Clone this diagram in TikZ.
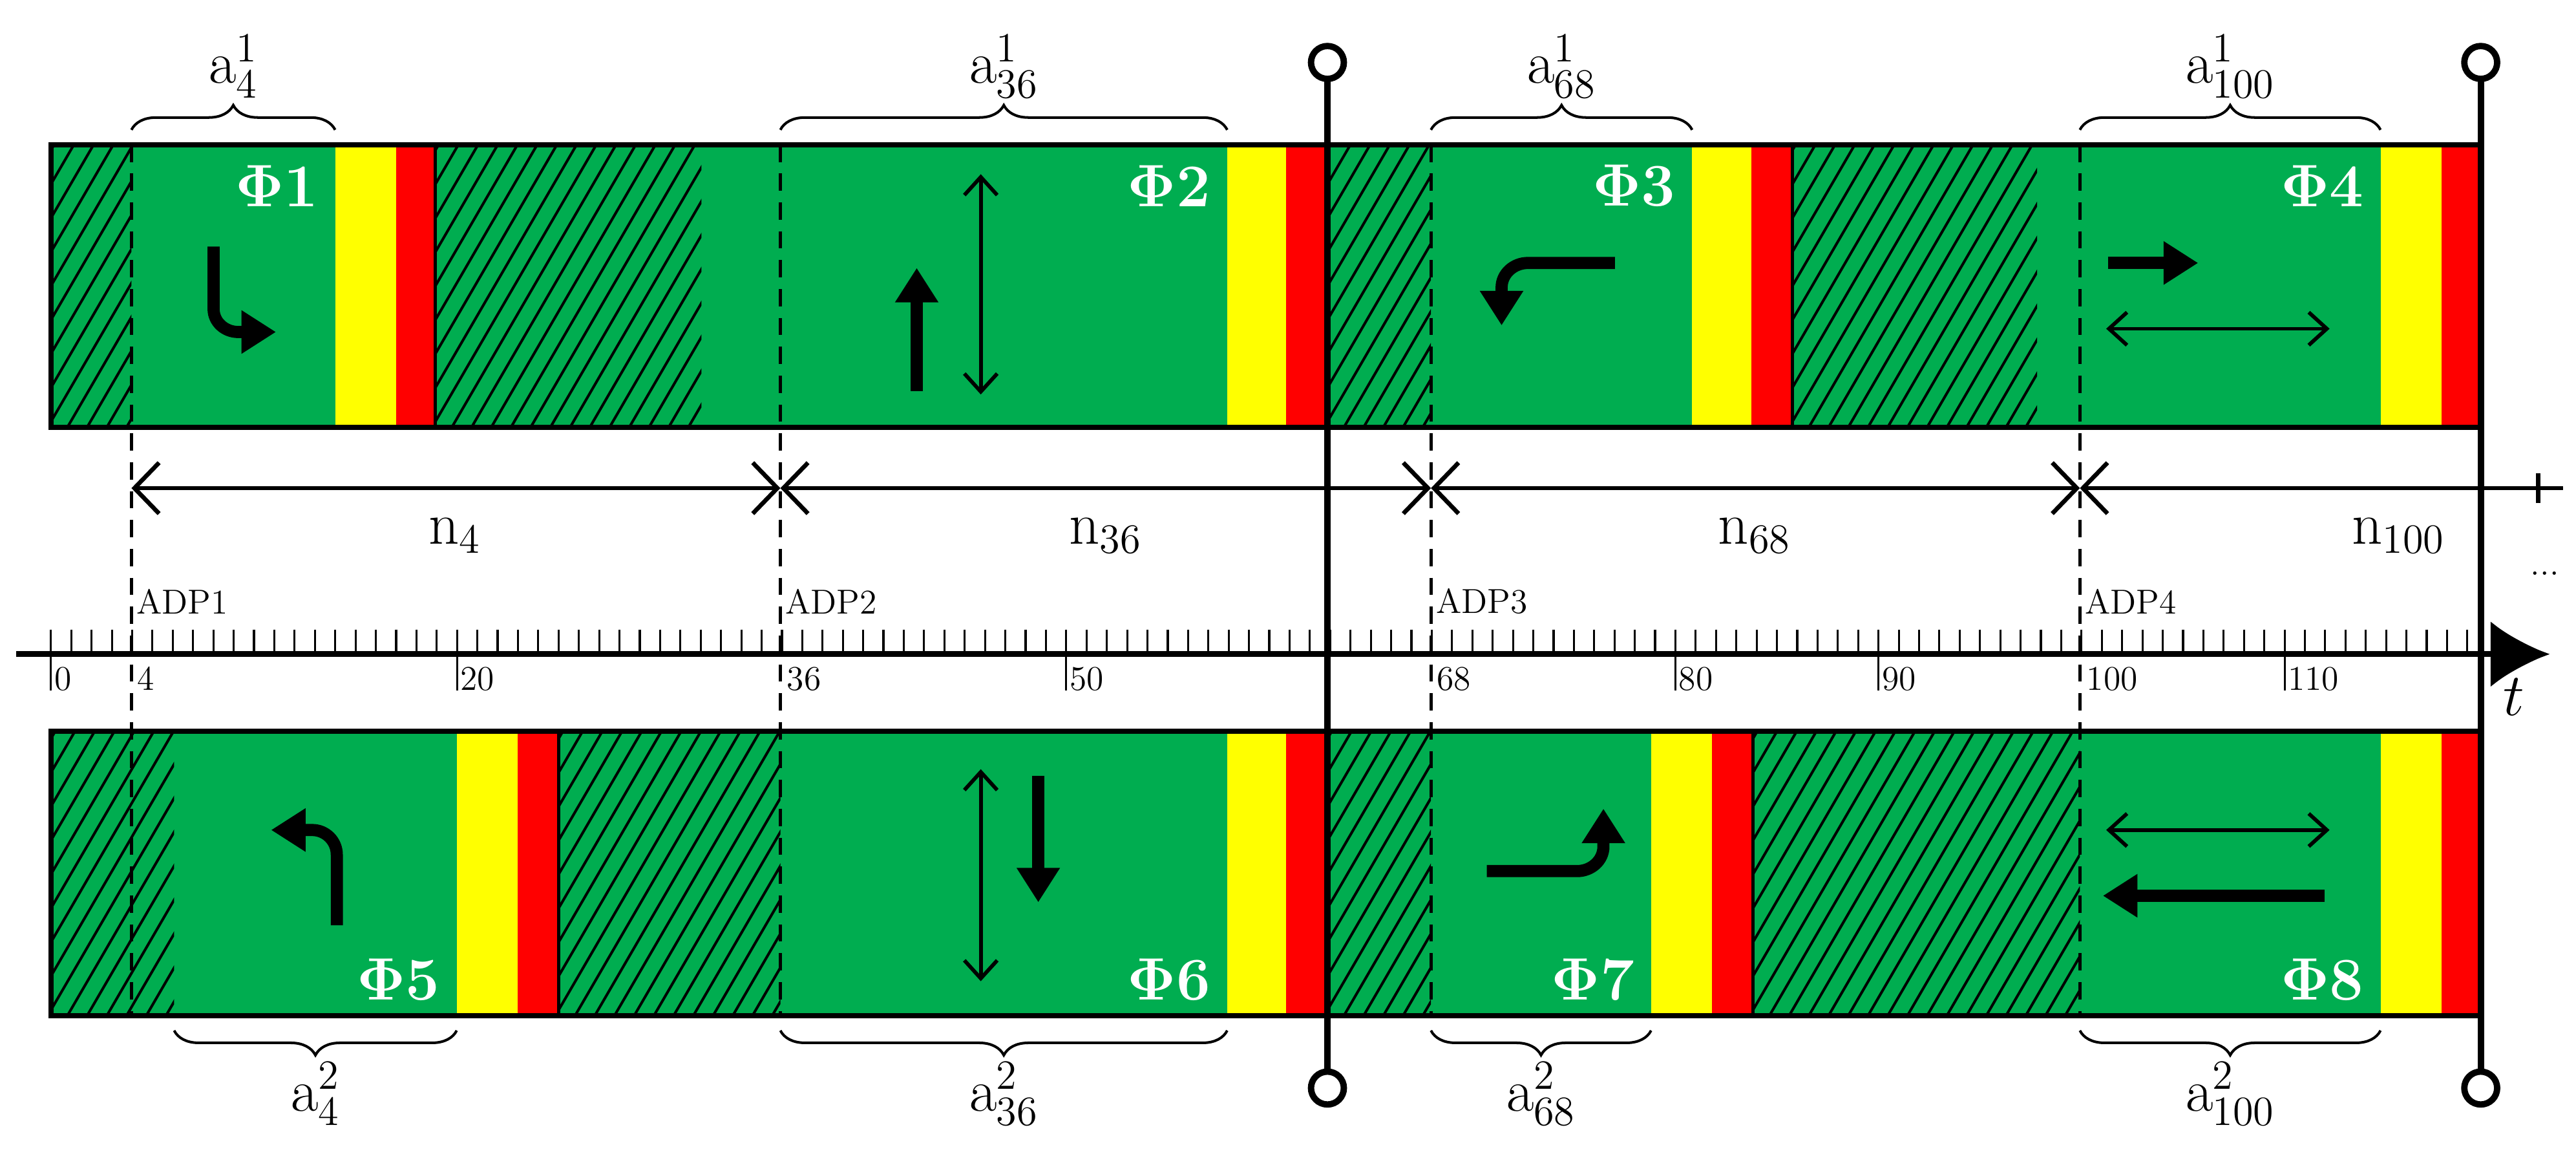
\documentclass[tikz,border=0pt]{standalone}
\usetikzlibrary{arrows.meta,decorations.pathreplacing}
\definecolor{sgreen}{RGB}{0,173,80}
\definecolor{syellow}{RGB}{255,255,0}
\definecolor{sred}{RGB}{255,0,0}
\newcommand\hatchbox[4]{%
  \begin{scope}
    \clip (#1,#2) rectangle (#3,#4);
    \foreach \i in {0,...,32}{\pgfmathsetmacro\xx{#1-110+12*\i}\draw[line width=0.9pt] (\xx,#4) -- ++(100,-172);}
  \end{scope}}
\newcommand\yr[5]{%
  \fill[syellow] (#1,#4) rectangle (#2,#5);
  \fill[sred] (#2,#4) rectangle (#3,#5);
  \draw[line width=1.2pt] (#3,#4) -- (#3,#5);}
\tikzset{
  bar/.style={line width=1.8pt},
  dim/.style={line width=1.5pt,{Straight Barb[length=0.3cm,width=0.62cm]}-{Straight Barb[length=0.3cm,width=0.62cm]}},
  thinarr/.style={line width=1.3pt,{Straight Barb[length=0.22cm,width=0.4cm]}-{Straight Barb[length=0.22cm,width=0.4cm]}},
  thickarrow/.style={line width=4.2pt,-{Triangle[length=0.42cm,width=0.5cm]}},
  phi/.style={text=white,font=\fontsize{21}{24}\selectfont\bfseries},
  lbl/.style={font=\fontsize{21}{24}\selectfont},
  ticklbl/.style={font=\fontsize{12}{14}\selectfont,anchor=west,inner sep=1pt},
  brc/.style={decorate,decoration={brace,amplitude=0.3cm},line width=0.9pt},
  adpline/.style={line width=1.2pt,dash pattern=on 6pt off 4pt},
  sync/.style={line width=2.2pt}
}
\begin{document}
\begin{tikzpicture}[x=0.02cm,y=-0.02cm]
\useasboundingbox (0,0) rectangle (1568,710);
% top bar
\fill[sgreen] (31,88) rectangle (1510,260);
\hatchbox{31}{88}{80}{260}
\hatchbox{265}{88}{427}{260}
\hatchbox{808}{88}{871}{260}
\hatchbox{1091}{88}{1240}{260}
\yr{204}{241}{265}{88}{260}
\yr{747}{783}{808}{88}{260}
\yr{1030}{1066}{1091}{88}{260}
\yr{1449}{1486}{1510}{88}{260}
\draw[bar] (31,88) rectangle (1510,260);
% bottom bar
\fill[sgreen] (31,445) rectangle (1510,618);
\hatchbox{31}{445}{106}{618}
\hatchbox{340}{445}{475}{618}
\hatchbox{808}{445}{871}{618}
\hatchbox{1067}{445}{1266}{618}
\yr{278}{315}{340}{445}{618}
\yr{747}{783}{808}{445}{618}
\yr{1005}{1042}{1067}{445}{618}
\yr{1449}{1486}{1510}{445}{618}
\draw[bar] (31,445) rectangle (1510,618);
% phase labels
\node[phi,anchor=east] (p1) at (200,113) {$\mathbf{\Phi}$1};
\node[phi,anchor=east] (p2) at (743,113) {$\mathbf{\Phi}$2};
\node[phi,anchor=east] (p3) at (1026,113) {$\mathbf{\Phi}$3};
\node[phi,anchor=east] (p4) at (1445,113) {$\mathbf{\Phi}$4};
\node[phi,anchor=east] (p5) at (274,596) {$\mathbf{\Phi}$5};
\node[phi,anchor=east] (p6) at (743,596) {$\mathbf{\Phi}$6};
\node[phi,anchor=east] (p7) at (1001,596) {$\mathbf{\Phi}$7};
\node[phi,anchor=east] (p8) at (1445,596) {$\mathbf{\Phi}$8};
% movement icons
\draw[thickarrow] (130,150) -- (130,188) to[out=-90,in=180] (145,202) -- (168,202);
\draw[thickarrow] (558,238) -- (558,163);
\draw[thinarr] (597,106) -- (597,240);
\draw[thickarrow] (983,160) -- (930,160) to[out=180,in=90] (914,175) -- (914,198);
\draw[thickarrow] (1283,160) -- (1338,160);
\draw[thinarr] (1282,200) -- (1418,200);
\draw[thickarrow] (205,563) -- (205,520) to[out=90,in=0] (190,505) -- (165,505);
\draw[thinarr] (597,468) -- (597,597);
\draw[thickarrow] (632,472) -- (632,549);
\draw[thickarrow] (905,530) -- (960,530) to[out=0,in=-90] (976,515) -- (976,492);
\draw[thinarr] (1282,505) -- (1418,505);
\draw[thickarrow] (1415,545) -- (1280,545);
% dashed ADP lines
\foreach \x/\n in {80/1,475/2,871/3,1266/4}{
  \draw[adpline] (\x,88) -- (\x,618);
  \node[ticklbl] (adp\n) at (\x+1,366) {ADP\n};
}
% time axis
\draw[line width=2pt,-{Latex[length=0.72cm,width=0.8cm]}] (10,398) -- (1552,398);
\node[font=\fontsize{20}{22}\selectfont] (tl) at (1530,424) {$t$};
\foreach \i in {0,...,119}{\draw[line width=0.7pt] (31+12.36*\i,383) -- (31+12.36*\i,398);}
\foreach \v in {0,20,50,80,90,110}{
  \draw[line width=0.7pt] (31+12.36*\v,398) -- (31+12.36*\v,420);
  \node[ticklbl] at (31+12.36*\v,413) {\v};}
\foreach \v in {4,36,68,100}{\node[ticklbl] at (31+12.36*\v+1,413) {\v};}
% dimension arrows
\coordinate (d0) at (80,297); \coordinate (d1) at (475,297);
\coordinate (d2) at (871,297); \coordinate (d3) at (1266,297);
\coordinate (d4) at (1560,297);
\draw[dim] (d0) -- (d1);
\draw[dim] (d1) -- (d2);
\draw[dim] (d2) -- (d3);
\draw[line width=1.5pt,{Straight Barb[length=0.3cm,width=0.62cm]}-] (d3) -- (d4);
\draw[line width=1.5pt] (1545,288) -- (1545,306);
\node[lbl] (n1) at (277,326) {$\mathrm{n}_{4}$};
\node[lbl] (n2) at (673,326) {$\mathrm{n}_{36}$};
\node[lbl] (n3) at (1068,326) {$\mathrm{n}_{68}$};
\node[lbl] (n4) at (1460,326) {$\mathrm{n}_{100}$};
\node[font=\fontsize{12}{14}\selectfont] (dots) at (1549,349) {...};
% sync lines
\foreach \x in {808,1510}{
  \draw[sync] (\x,48) -- (\x,652);
  \draw[sync,fill=white] (\x,38) circle (10);
  \draw[sync,fill=white] (\x,662) circle (10);
}
% braces
\foreach \a/\b/\t in {80/204/{4},475/747/{36},871/1030/{68},1266/1449/{100}}{
  \draw[brc] (\a,79) -- (\b,79) node[midway,lbl,above=0.3cm,inner sep=2pt] {$\mathrm{a}^{1}_{\t}$};}
\foreach \a/\b/\t in {106/278/{4},475/747/{36},871/1005/{68},1266/1449/{100}}{
  \draw[brc] (\b,627) -- (\a,627) node[midway,lbl,below=0.3cm,inner sep=2pt] {$\mathrm{a}^{2}_{\t}$};}
\end{tikzpicture}
\end{document}
